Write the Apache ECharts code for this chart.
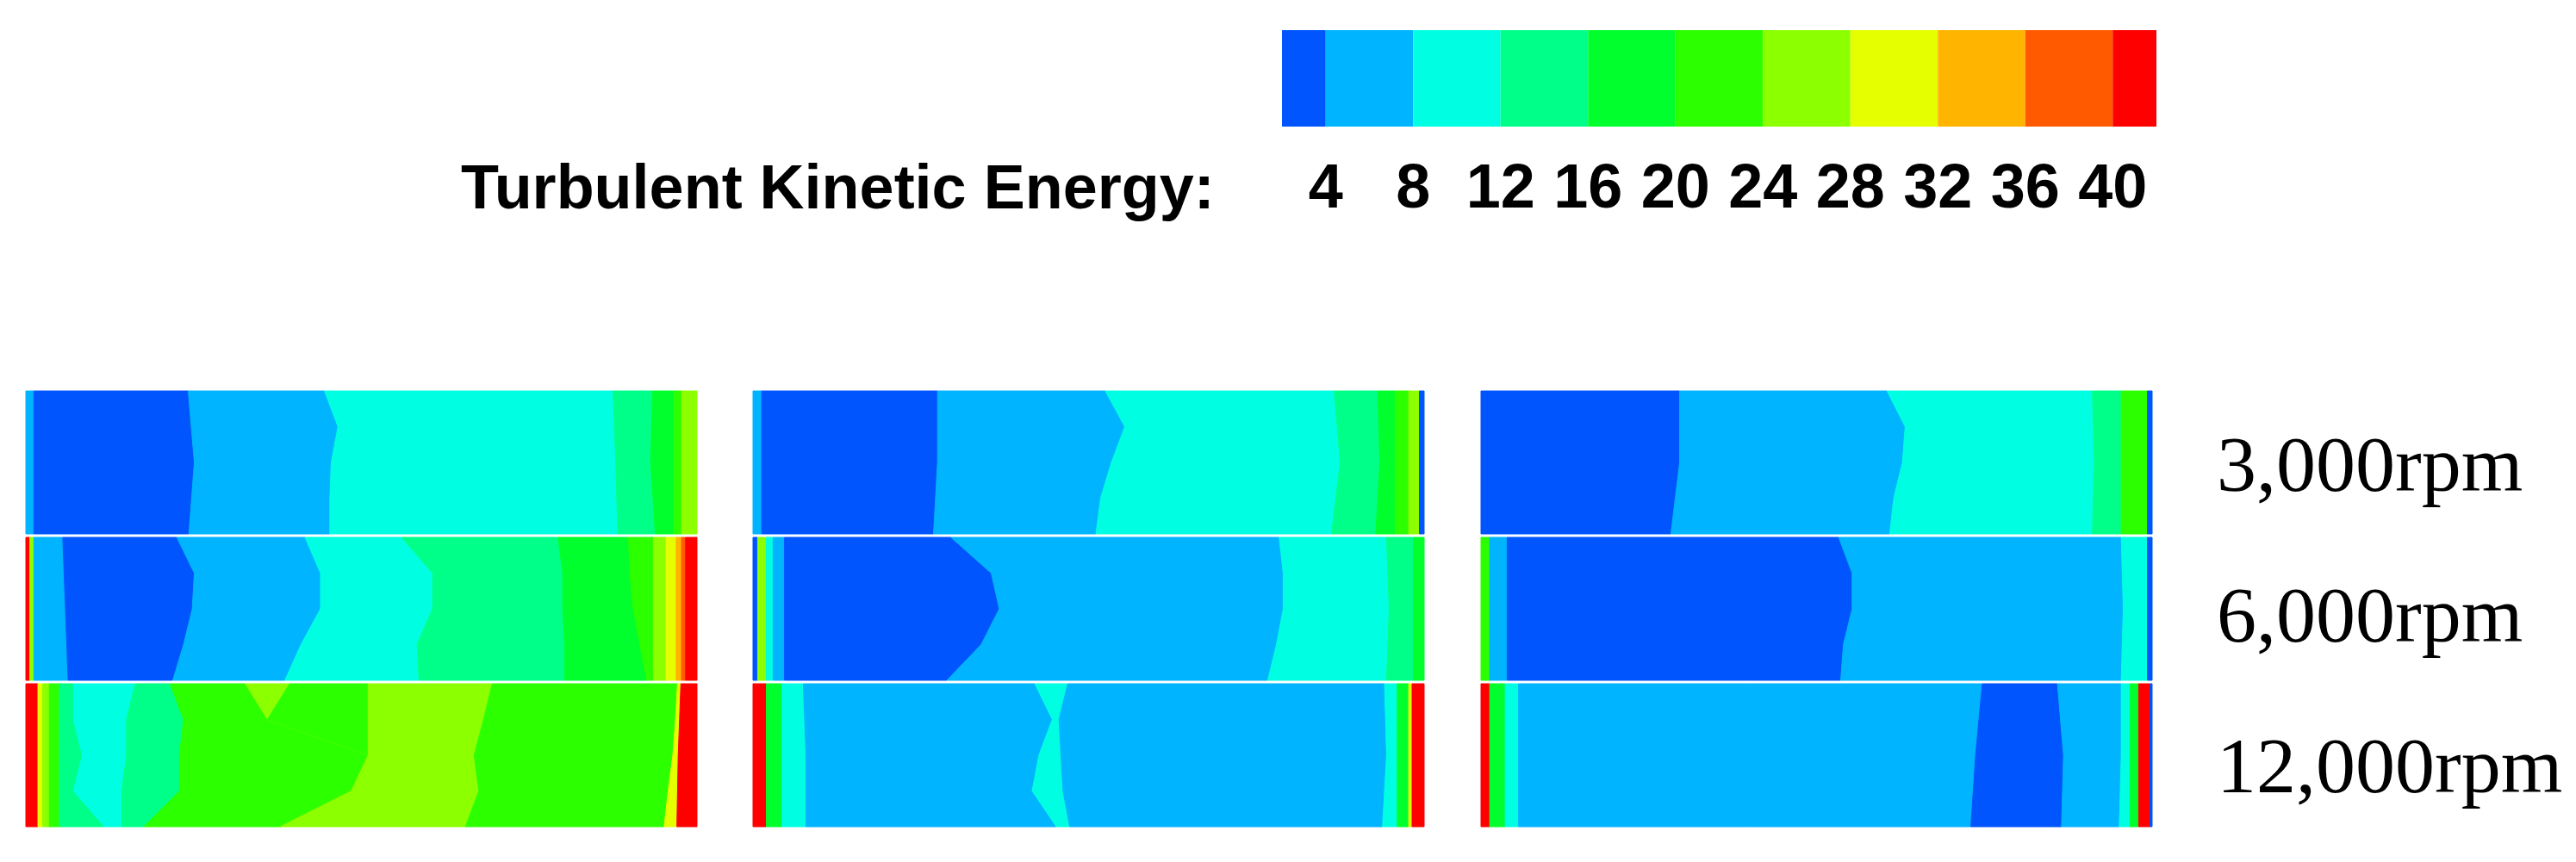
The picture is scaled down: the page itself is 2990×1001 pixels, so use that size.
<!DOCTYPE html>
<html>
<head>
<meta charset="utf-8">
<title>Turbulent Kinetic Energy</title>
<script src="https://cdn.jsdelivr.net/npm/echarts@6/dist/echarts.min.js"></script>
<style>
  html, body { margin: 0; padding: 0; background: #fff; }
  #chart { width: 2990px; height: 1001px; }
</style>
</head>
<body>
<div id="chart"></div>
<script>
// contour classes, lowest to highest
const levelColors = ['#0055ff', '#00b4ff', '#00ffe2', '#00ff88', '#00ff2c', '#2cff00',
  '#8cff00', '#e6ff00', '#ffb400', '#ff5a00', '#ff0000']
const legendEdges = [2, 4, 8, 12, 16, 20, 24, 28, 32, 36, 40, 42]
const legendTicks = [4, 8, 12, 16, 20, 24, 28, 32, 36, 40]
const speeds = ['3,000rpm', '6,000rpm', '12,000rpm']

// bands left to right: [class, right edge ...] in % of strip length,
// edge read at 1 (straight), 3 or 5 evenly spaced heights from top to bottom
const left3000 = [
  [1, 1.2], [0, 24.2, 25.1, 24.3], [1, 44.5, 46.5, 45.5, 45.3, 45.3], [2, 87.5, 87.9, 88.2],
  [3, 93.4, 93.1, 93.8], [4, 96.5], [5, 97.7], [6, 100],
]
const left6000 = [
  [10, 0.6], [6, 1.2], [1, 5.5, 5.9, 6.3], [0, 22.5, 25.1, 24.8, 23.5, 21.9],
  [1, 41.6, 43.9, 43.9, 41.0, 38.6], [2, 56.0, 60.6, 60.6, 58.3, 58.6],
  [3, 79.3, 80.0, 80.0, 80.3, 80.3], [4, 89.8, 90.0, 90.5, 91.5, 92.5], [5, 93.5],
  [6, 95.4], [7, 96.9], [8, 97.7], [9, 98.3], [10, 100],
]
const left12000 = [
  [10, 1.8], [7, 2.5], [6, 3.5], [5, 5.0], [3, 7.1, 7.1, 8.4, 7.1, 11.7],
  [2, 16.3, 15.0, 15.0, 14.3, 14.3], [3, 21.5, 23.5, 22.9, 22.9, 17.6],
  [5, 32.7, 36.0, 51.0, 48.5, 37.9], [6, 39.3, 36.0, 51.0, 48.5, 37.9],
  [5, 51.0, 51.0, 51.0, 48.5, 37.9], [6, 69.5, 68.2, 66.8, 67.5, 65.5],
  [5, 97.1, 96.8, 96.4, 95.7, 95.1], [7, 97.6, 97.4, 97.2, 97.1, 97.0], [10, 100],
]
const mid3000 = [
  [1, 1.3], [0, 27.5, 27.5, 26.9], [1, 52.5, 55.4, 53.4, 51.8, 51.1],
  [2, 86.6, 87.5, 86.2], [3, 93.1, 93.4, 92.8], [4, 95.7], [5, 97.7], [6, 99.3], [0, 100],
]
const mid6000 = [
  [0, 0.7], [6, 2.0], [2, 3.0], [1, 4.7], [0, 29.5, 35.5, 36.7, 34.0, 28.9],
  [1, 78.4, 79.0, 79.0, 78.0, 76.7], [2, 94.4, 94.8, 94.4], [3, 98.4], [4, 100],
]
const mid12000 = [
  [10, 2.0], [4, 4.3], [2, 7.5, 7.9, 7.9], [1, 42.0, 44.6, 42.6, 41.6, 45.2],
  [2, 46.9, 45.6, 45.9, 46.2, 47.2], [1, 94.1, 94.4, 93.8], [2, 96.0], [4, 97.7],
  [7, 98.2], [10, 100],
]
const right3000 = [
  [0, 29.6, 29.6, 28.3], [1, 60.5, 63.2, 62.8, 61.5, 60.9], [2, 91.1, 91.4, 91.1],
  [3, 95.4], [5, 99.3], [0, 100],
]
const right6000 = [
  [5, 1.3], [1, 3.9], [0, 53.3, 55.3, 55.3, 54.0, 53.6], [1, 95.4, 95.7, 95.4],
  [2, 99.3], [0, 100],
]
const right12000 = [
  [10, 1.3], [4, 3.6], [2, 5.6], [1, 74.7, 73.7, 73.0], [0, 85.9, 86.8, 86.5],
  [1, 95.4, 95.4, 95.1], [2, 96.7], [4, 98.0], [10, 99.7], [0, 100],
]

const panels = [
  [left3000, left6000, left12000],
  [mid3000, mid6000, mid12000],
  [right3000, right6000, right12000],
]
const panelLeft = [30, 874, 1719]

// split each band list into [row, class] items plus the left/right edges of the band
function bandItems(rows) {
  const items = []
  const edges = []
  rows.forEach((bands, row) => {
    let prev = [0]
    bands.forEach((b) => {
      const edge = b.slice(1)
      items.push([row, b[0]])
      edges.push([prev, edge])
      prev = edge
    })
  })
  return { items, edges }
}

function makeRenderBand(edges) {
  return function (params, api) {
    const row = api.value(0)
    const color = levelColors[api.value(1)]
    const center = api.coord([0, row])
    const h = api.size([0, 1])[1]
    const yT = center[1] - h / 2 + 2
    const yB = center[1] + h / 2 - 2
    const px = (v) => api.coord([v, row])[0]
    const side = (vals) =>
      vals.length === 1
        ? [[px(vals[0]), yT], [px(vals[0]), yB]]
        : vals.map((v, k) => [px(v), yT + (k / (vals.length - 1)) * (yB - yT)])
    const [l, r] = edges[params.dataIndex]
    const points = side(r).concat(side(l).reverse())
    return {
      type: 'polygon',
      shape: { points },
      style: { fill: color, stroke: color, lineWidth: 1 },
    }
  }
}

function renderLegendBlock(params, api) {
  const p0 = api.coord([api.value(0), 1])
  const p1 = api.coord([api.value(1), 0])
  return {
    type: 'rect',
    shape: { x: p0[0], y: p0[1], width: p1[0] - p0[0], height: p1[1] - p0[1] },
    style: { fill: levelColors[api.value(2)] },
  }
}

const legendData = legendEdges.slice(0, -1).map((e, i) => [e, legendEdges[i + 1], i])

const grids = panelLeft.map((left) => ({ left, top: 452, width: 779, height: 510 }))
grids.push({ left: 2500, top: 458, width: 1, height: 525 })
grids.push({ left: 1488, top: 35, width: 1015, height: 112 })

const xAxes = panelLeft.map((_, i) => ({ type: 'value', gridIndex: i, min: 0, max: 100, show: false }))
xAxes.push({ type: 'value', gridIndex: 3, show: false })
xAxes.push({
  type: 'value',
  gridIndex: 4,
  min: 2,
  max: 42,
  axisLine: { show: false },
  axisTick: { show: false },
  splitLine: { show: false },
  axisLabel: {
    customValues: legendTicks,
    margin: 38,
    color: '#000',
    fontSize: 72,
    fontWeight: 'bold',
    fontFamily: 'Liberation Sans',
  },
})

const yAxes = panelLeft.map((_, i) => ({
  type: 'category', gridIndex: i, data: speeds, inverse: true, show: false,
}))
yAxes.push({
  type: 'category',
  gridIndex: 3,
  data: speeds,
  inverse: true,
  position: 'right',
  axisLine: { show: false },
  axisTick: { show: false },
  axisLabel: {
    margin: 72,
    align: 'left',
    color: '#000',
    fontSize: 92,
    fontFamily: 'Liberation Serif',
  },
})
yAxes.push({ type: 'value', gridIndex: 4, min: 0, max: 1, show: false })

const series = panels.map((rows, i) => {
  const { items, edges } = bandItems(rows)
  return {
    type: 'custom',
    xAxisIndex: i,
    yAxisIndex: i,
    renderItem: makeRenderBand(edges),
    data: items,
    silent: true,
  }
})
series.push({
  type: 'custom',
  xAxisIndex: 4,
  yAxisIndex: 4,
  renderItem: renderLegendBlock,
  data: legendData,
  silent: true,
})

const chart = echarts.init(document.getElementById('chart'))
chart.setOption({
  backgroundColor: '#fff',
  animation: false,
  title: {
    text: 'Turbulent Kinetic Energy:',
    left: 530,
    top: 181,
    textStyle: { color: '#000', fontSize: 72, fontWeight: 'bold', fontFamily: 'Liberation Sans' },
  },
  grid: grids,
  xAxis: xAxes,
  yAxis: yAxes,
  series,
})
</script>
</body>
</html>
